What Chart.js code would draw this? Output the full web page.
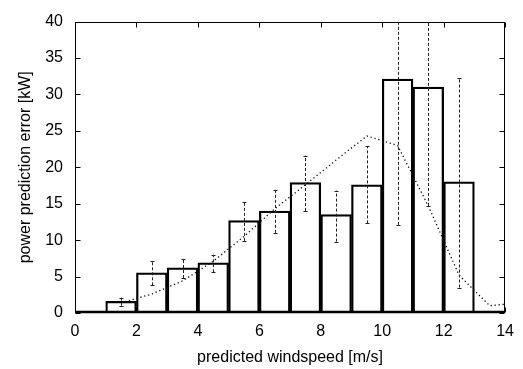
<!DOCTYPE html>
<html>
<head>
<meta charset="utf-8">
<script src="https://cdn.jsdelivr.net/npm/chart.js@4.4.1/dist/chart.umd.min.js"></script>
<style>
  html, body { margin: 0; padding: 0; background: #fff; }
  #wrap { width: 523px; height: 369px; }
</style>
</head>
<body>
<div id="wrap"><canvas id="chart" width="523" height="369"></canvas></div>
<script>
// histogram bins (centres, m/s) and mean power prediction error (kW)
const binCenters = [0.5, 1.5, 2.5, 3.5, 4.5, 5.5, 6.5, 7.5, 8.5, 9.5, 10.5, 11.5, 12.5, 13.5];
const errorValues = [0, 1.6, 5.5, 6.2, 6.9, 12.7, 14.0, 17.9, 13.5, 17.6, 32.1, 31.0, 18.0, 0];
// error bar range per bin
const errLow = [0, 1.0, 3.8, 4.8, 5.6, 9.9, 11.0, 14.0, 9.8, 12.3, 12.1, 14.7, 3.5, 0];
const errHigh = [0, 2.1, 7.1, 7.4, 8.0, 15.3, 16.9, 21.6, 16.8, 22.9, 52.0, 47.0, 32.3, 0];
// dotted reference curve
const curveX = [1.5, 2.5, 3.5, 4.5, 5.5, 6.5, 7.5, 8.5, 9.5, 10.5, 11.5, 12.5, 13.5, 14];
const curveY = [1.4, 2.6, 4.4, 7.1, 10.5, 14.3, 17.6, 21.0, 24.3, 23.0, 14.7, 5.2, 1.0, 1.2];
// axes
const xMin = 0, xMax = 14, xStep = 2;
const yMin = 0, yMax = 40, yStep = 5;

const fontFamily = '"Liberation Sans", Arial, sans-serif';

// frame, inward ticks (all four sides) and dashed error bars
const framePlugin = {
    id: 'frame',
    afterDatasetsDraw(chart) {
        const ctx = chart.ctx;
        const area = chart.chartArea;
        const xs = chart.scales.x;
        const ys = chart.scales.y;

        // error bars
        ctx.save();
        ctx.beginPath();
        ctx.rect(area.left, area.top, area.right - area.left, area.bottom - area.top);
        ctx.clip();
        ctx.strokeStyle = '#222';
        ctx.lineWidth = 1;
        binCenters.forEach((c, i) => {
            const px = Math.round(xs.getPixelForValue(c)) + 0.5;
            const lo = ys.getPixelForValue(errLow[i]);
            const hi = ys.getPixelForValue(errHigh[i]);
            ctx.setLineDash([3, 2]);
            ctx.beginPath();
            ctx.moveTo(px, lo);
            ctx.lineTo(px, hi);
            ctx.stroke();
            ctx.setLineDash([]);
            ctx.beginPath();
            ctx.moveTo(px - 2, Math.round(lo) + 0.5);
            ctx.lineTo(px + 2, Math.round(lo) + 0.5);
            ctx.moveTo(px - 2, Math.round(hi) + 0.5);
            ctx.lineTo(px + 2, Math.round(hi) + 0.5);
            ctx.stroke();
        });
        ctx.restore();

        // frame
        ctx.save();
        ctx.strokeStyle = '#000';
        ctx.lineWidth = 1;
        const l = Math.round(area.left) + 0.5, r = Math.round(area.right) - 0.5;
        const t = Math.round(area.top) + 0.5, b = Math.round(area.bottom) - 0.5;
        ctx.strokeRect(l, t, r - l, b - t);
        ctx.lineWidth = 2.5;
        ctx.beginPath();
        ctx.moveTo(l, b - 0.5);
        ctx.lineTo(r, b - 0.5);
        ctx.stroke();

        // inward ticks
        ctx.lineWidth = 1;
        const len = 5;
        ctx.beginPath();
        xs.ticks.forEach(tk => {
            const px = Math.round(xs.getPixelForValue(tk.value)) + 0.5;
            ctx.moveTo(px, b); ctx.lineTo(px, b - len);
            ctx.moveTo(px, t); ctx.lineTo(px, t + len);
        });
        ys.ticks.forEach(tk => {
            const py = Math.round(ys.getPixelForValue(tk.value)) + 0.5;
            ctx.moveTo(l, py); ctx.lineTo(l + len, py);
            ctx.moveTo(r, py); ctx.lineTo(r - len, py);
        });
        ctx.stroke();
        ctx.restore();
    }
};

const ctx = document.getElementById('chart').getContext('2d');
new Chart(ctx, {
    type: 'bar',
    data: {
        datasets: [{
            type: 'bar',
            data: binCenters.map((c, i) => ({ x: c, y: errorValues[i] })),
            backgroundColor: 'rgba(255,255,255,0)',
            borderColor: '#000',
            borderWidth: 1.6,
            borderSkipped: false,
            barPercentage: 1,
            categoryPercentage: 1,
            order: 2
        }, {
            type: 'line',
            data: curveX.map((x, i) => ({ x: x, y: curveY[i] })),
            borderColor: '#111',
            borderWidth: 1.3,
            borderDash: [1.3, 2.7],
            pointRadius: 0,
            tension: 0,
            fill: false,
            order: 1
        }]
    },
    options: {
        responsive: false,
        animation: false,
        layout: { padding: { top: 15, right: 15, left: 0, bottom: 0 } },
        plugins: {
            legend: { display: false },
            tooltip: { enabled: false }
        },
        scales: {
            x: {
                type: 'linear',
                min: xMin,
                max: xMax,
                offset: false,
                grid: { display: false, drawTicks: false, offset: false },
                border: { display: false },
                ticks: {
                    stepSize: xStep,
                    color: '#000',
                    padding: 9,
                    maxRotation: 0,
                    font: { family: fontFamily, size: 16 }
                },
                title: {
                    display: true,
                    text: 'predicted windspeed [m/s]',
                    color: '#000',
                    font: { family: fontFamily, size: 16 },
                    padding: { top: 0, bottom: 2 }
                },
                afterFit(scale) { scale.height = 56; }
            },
            y: {
                min: yMin,
                max: yMax,
                grid: { display: false, drawTicks: false },
                border: { display: false },
                ticks: {
                    stepSize: yStep,
                    color: '#000',
                    padding: 12,
                    font: { family: fontFamily, size: 16 }
                },
                title: {
                    display: true,
                    text: 'power prediction error [kW]',
                    color: '#000',
                    font: { family: fontFamily, size: 16 },
                    padding: { top: 16, bottom: 0 }
                },
                afterFit(scale) { scale.width = 75; }
            }
        }
    },
    plugins: [framePlugin]
});
</script>
</body>
</html>
